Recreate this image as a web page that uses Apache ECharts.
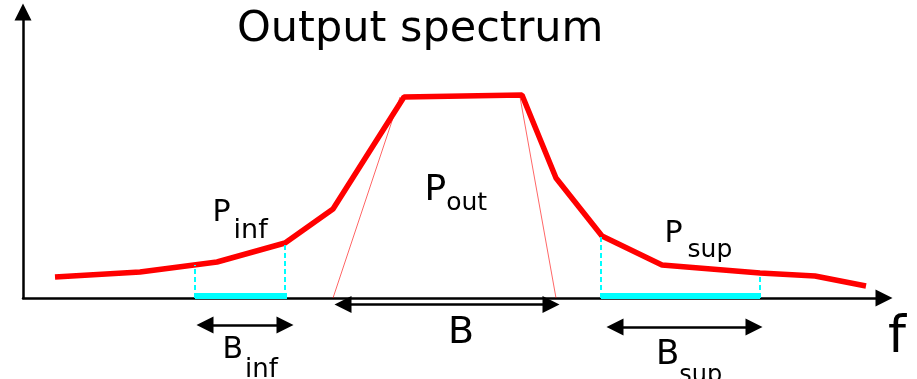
<!DOCTYPE html>
<html>
<head>
<meta charset="utf-8">
<script src="https://cdn.jsdelivr.net/npm/echarts@6/dist/echarts.min.js"></script>
<style>
    html, body {
        margin: 0;
        padding: 0;
        background: #ffffff;
    }

    #spectrum {
        width: 917px;
        height: 379px;
    }
</style>
</head>
<body>
<div id="spectrum"></div>
<script>
    // output spectrum, f and P in arbitrary units
    let spectrumF = [3.2, 11.7, 19.4, 26.2, 31.0, 38.1, 49.9, 53.3, 57.9, 63.9, 73.7, 79.2, 84.3];
    let spectrumP = [2.1, 2.6, 3.6, 5.5, 8.9, 20.1, 20.3, 12.0, 6.2, 3.3, 2.5, 2.2, 1.2];

    // thin lines that mark the channel band B
    let bandLeftF = [31.0, 37.7];
    let bandRightF = [49.7, 53.3];
    let bandEdgeP = [0, 20.1];

    // adjacent channels (cyan)
    let infBand = [17.2, 26.4];
    let supBand = [57.8, 73.7];
    let edgeF = [17.2, 26.2, 57.8, 73.7];
    let edgeP = [3.3, 5.3, 6.1, 2.4];

    // width arrows under the axis
    let arrowInf = [18.2, 26.2];
    let arrowB = [32.0, 52.8];
    let arrowSup = [59.2, 73.1];

    // labels
    let labelMain = ['P', 'P', 'P', 'B', 'B', 'B', 'f'];
    let labelSub = ['inf', 'out', 'sup', 'inf', '', 'sup', ''];

    let font = 'DejaVu Sans';
    let myChart = echarts.init(document.getElementById('spectrum'));

    // anchor (top-left of the text block) and sizes of each label
    let labelLayout = [
        {at: [18.95, 9.95], main: 30, sub: 27, pad: [19, 0, 0, 3]},
        {at: [40.15, 12.56], main: 36, sub: 25, pad: [19, 0, 0, 0]},
        {at: [64.15, 7.88], main: 30, sub: 25, pad: [19, 0, 0, 5]},
        {at: [19.95, -3.7], main: 30, sub: 26, pad: [22, 0, 0, 2]},
        {at: [42.5, -1.65], main: 38, sub: 26, pad: [0, 0, 0, 0]},
        {at: [63.3, -4.0], main: 34, sub: 24, pad: [26, 0, 0, 0]},
        {at: [86.5, -1.5], main: 51, sub: 26, pad: [0, 0, 0, 0]}
    ];

    function labelSeries(i) {
        let l = labelLayout[i];
        let text = '{m|' + labelMain[i] + '}' + (labelSub[i] ? '{s|' + labelSub[i] + '}' : '');
        return {
            type: 'scatter',
            xAxisIndex: 1,
            yAxisIndex: 1,
            clip: false,
            silent: true,
            symbolSize: 0,
            // scatter defaults to 0.8 opacity, which also greys the label
            itemStyle: {color: '#000000', opacity: 1},
            data: [l.at],
            label: {
                show: true,
                position: [0, 0],
                formatter: text,
                color: '#000000',
                textBorderWidth: 0,
                rich: {
                    m: {fontFamily: font, fontSize: l.main, lineHeight: l.main, verticalAlign: 'top', color: '#000000'},
                    s: {fontFamily: font, fontSize: l.sub, lineHeight: l.sub, verticalAlign: 'top', padding: l.pad, color: '#000000'}
                }
            }
        };
    }

    function hline(span, y) {
        return [{coord: [span[0], y]}, {coord: [span[1], y]}];
    }

    let edgeLines = edgeF.map(function (f, i) {
        return [{coord: [f, 0]}, {coord: [f, edgeP[i]]}];
    });

    let markerBase = {
        silent: true,
        animation: false,
        label: {show: false},
        emphasis: {disabled: true}
    };

    let series = [
        {
            // thin band edges
            type: 'line',
            symbol: 'none',
            silent: true,
            lineStyle: {color: 'rgba(255,0,0,0.6)', width: 1},
            data: [[bandLeftF[0], bandEdgeP[0]], [bandLeftF[1], bandEdgeP[1]]]
        },
        {
            type: 'line',
            symbol: 'none',
            silent: true,
            lineStyle: {color: 'rgba(255,0,0,0.6)', width: 1},
            data: [[bandRightF[0], bandEdgeP[1]], [bandRightF[1], bandEdgeP[0]]]
        },
        {
            // cyan channels
            type: 'line',
            data: [],
            markLine: Object.assign({}, markerBase, {
                symbol: ['none', 'none'],
                lineStyle: {color: '#00ffff', width: 2, type: [5, 3]},
                data: edgeLines
            })
        },
        {
            type: 'line',
            data: [],
            markLine: Object.assign({}, markerBase, {
                symbol: ['none', 'none'],
                lineStyle: {color: '#00ffff', width: 6, type: 'solid'},
                data: [hline(infBand, 0.2), hline(supBand, 0.2)]
            })
        },
        {
            // output spectrum
            type: 'line',
            symbol: 'none',
            silent: true,
            lineStyle: {color: '#ff0000', width: 5.5},
            data: spectrumF.map(function (f, i) {
                return [f, spectrumP[i]];
            })
        },
        {
            // width arrows, on the full-height annotation grid
            type: 'line',
            xAxisIndex: 1,
            yAxisIndex: 1,
            data: [],
            markLine: Object.assign({}, markerBase, {
                symbol: ['triangle', 'triangle'],
                symbolSize: [17, 17],
                lineStyle: {color: '#000000', width: 2.5, type: 'solid'},
                data: [hline(arrowInf, -2.7), hline(arrowB, -0.65), hline(arrowSup, -2.9)]
            })
        }
    ];
    for (let i = 0; i < labelMain.length; i++) {
        series.push(labelSeries(i));
    }

    let hiddenAxis = {
        type: 'value',
        show: false,
        axisLine: {show: false},
        splitLine: {show: false}
    };

    let option = {
        animation: false,
        textStyle: {fontFamily: font},
        title: {
            text: 'Output spectrum',
            left: 237,
            top: 8,
            padding: 0,
            textStyle: {fontFamily: font, fontSize: 43, fontWeight: 'normal', color: '#000000'}
        },
        grid: [
            {left: 23, right: 33, top: 12, bottom: 81},
            // same scale, extended down to the bottom edge for the annotations
            {left: 23, right: 33, top: 12, bottom: 0}
        ],
        xAxis: [
            {
                type: 'value',
                min: 0,
                max: 86.1,
                axisLine: {
                    lineStyle: {color: '#000000', width: 2.5},
                    symbol: ['none', 'triangle'],
                    symbolSize: [17, 17]
                },
                axisTick: {show: false},
                axisLabel: {show: false},
                splitLine: {show: false}
            },
            Object.assign({gridIndex: 1, min: 0, max: 86.1}, hiddenAxis)
        ],
        yAxis: [
            {
                type: 'value',
                min: 0,
                max: 28.6,
                axisLine: {
                    show: true,
                    lineStyle: {color: '#000000', width: 2.5},
                    symbol: ['none', 'triangle'],
                    symbolSize: [17, 17]
                },
                axisTick: {show: false},
                axisLabel: {show: false},
                splitLine: {show: false}
            },
            Object.assign({gridIndex: 1, min: -8.1, max: 28.6}, hiddenAxis)
        ],
        series: series
    };
    myChart.setOption(option);
</script>
</body>
</html>
